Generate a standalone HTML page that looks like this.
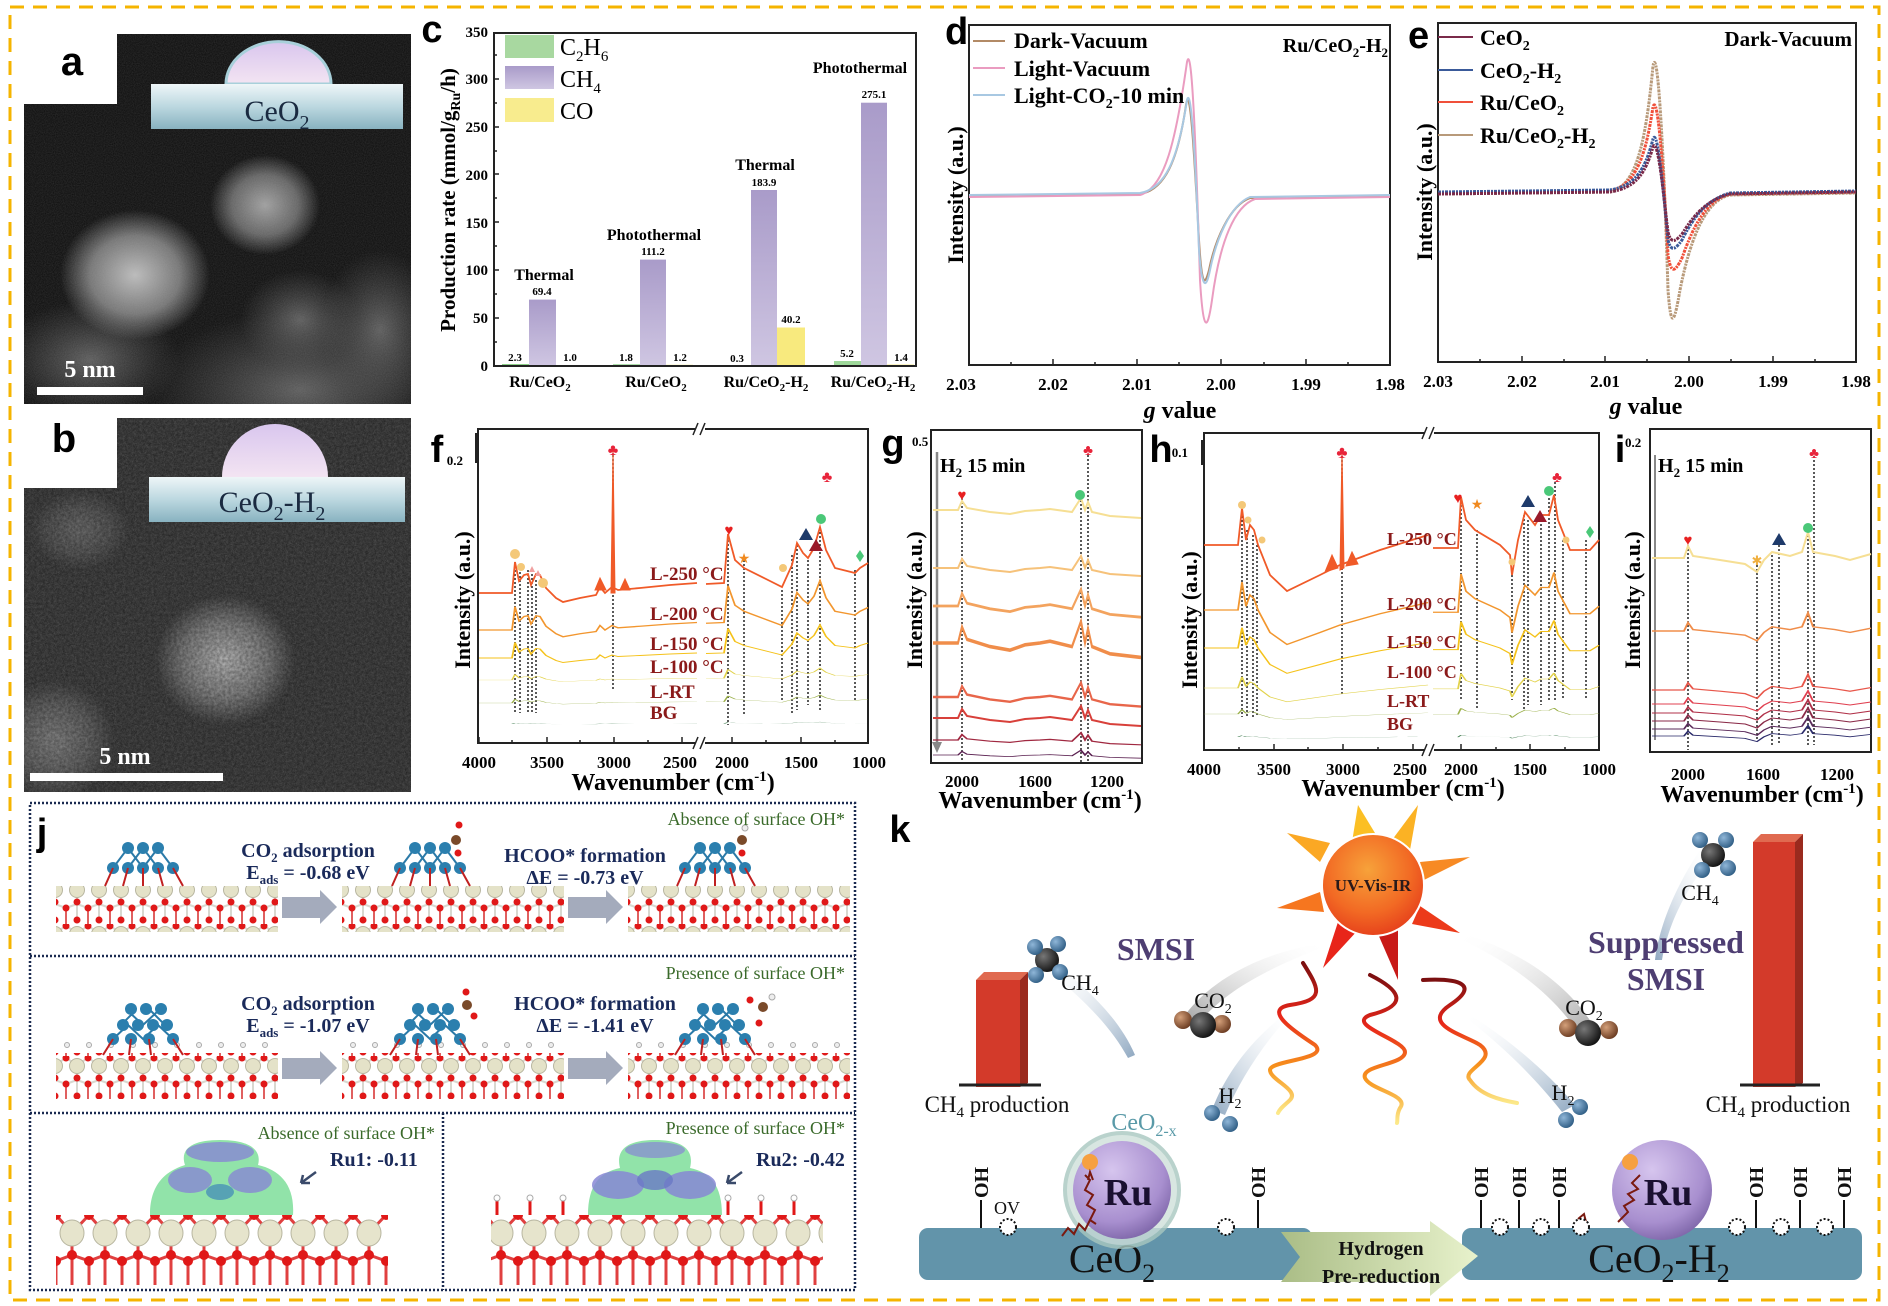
<!DOCTYPE html>
<html><head><meta charset="utf-8"><style>
html,body{margin:0;padding:0;background:#fff}
svg{display:block}
.s{font-family:"Liberation Serif",serif;font-weight:bold}
.p{font-family:"Liberation Sans",sans-serif;font-weight:bold}
</style></head><body>
<svg width="1888" height="1306" viewBox="0 0 1888 1306" xmlns="http://www.w3.org/2000/svg">
<defs>
<filter id="noise" x="0" y="0" width="100%" height="100%"><feTurbulence type="fractalNoise" baseFrequency="0.9" numOctaves="2" seed="3"/><feColorMatrix type="matrix" values="0 0 0 0 0.5 0 0 0 0 0.5 0 0 0 0 0.5 0 0 0 0.35 0"/></filter>
<filter id="noise2" x="0" y="0" width="100%" height="100%"><feTurbulence type="fractalNoise" baseFrequency="0.35" numOctaves="2" seed="7"/><feColorMatrix type="matrix" values="0 0 0 0 0 0 0 0 0 0 0 0 0 0 0 0 0 0 -1.4 1.1"/></filter>
<radialGradient id="blob" cx="0.5" cy="0.5" r="0.5"><stop offset="0" stop-color="#d0d0d0"/><stop offset="0.6" stop-color="#808080"/><stop offset="1" stop-color="#808080" stop-opacity="0"/></radialGradient>
<radialGradient id="blobd" cx="0.5" cy="0.5" r="0.5"><stop offset="0" stop-color="#5a5a5a"/><stop offset="1" stop-color="#4a4a4a" stop-opacity="0"/></radialGradient>
<linearGradient id="ceo" x1="0" y1="0" x2="0" y2="1"><stop offset="0" stop-color="#eef6f8"/><stop offset="0.5" stop-color="#bcd8e0"/><stop offset="1" stop-color="#88b2c0"/></linearGradient>
<linearGradient id="dome" x1="0" y1="0" x2="0" y2="1"><stop offset="0" stop-color="#d9c6ee"/><stop offset="1" stop-color="#f3e4f2"/></linearGradient>
<linearGradient id="ch4" x1="0" y1="0" x2="0" y2="1"><stop offset="0" stop-color="#a99bc9"/><stop offset="1" stop-color="#cfc6e2"/></linearGradient>
<radialGradient id="sun" cx="0.45" cy="0.35" r="0.7"><stop offset="0" stop-color="#f7a23a"/><stop offset="0.6" stop-color="#f26a24"/><stop offset="1" stop-color="#e43a1a"/></radialGradient>
<radialGradient id="ru" cx="0.4" cy="0.3" r="0.75"><stop offset="0" stop-color="#d6c5ee"/><stop offset="0.7" stop-color="#a88fcf"/><stop offset="1" stop-color="#7b63a6"/></radialGradient>
<linearGradient id="arr" x1="0" y1="0" x2="1" y2="0"><stop offset="0" stop-color="#aabd86"/><stop offset="1" stop-color="#e8f2cc"/></linearGradient>
<linearGradient id="wl" x1="0" y1="0" x2="0" y2="1"><stop offset="0" stop-color="#7a0f10"/><stop offset="0.35" stop-color="#e8261a"/><stop offset="0.7" stop-color="#f7941d"/><stop offset="1" stop-color="#fce98a"/></linearGradient>
<linearGradient id="trail" x1="0" y1="0" x2="1" y2="1"><stop offset="0" stop-color="#ffffff" stop-opacity="0"/><stop offset="1" stop-color="#8ea7c0"/></linearGradient>
<linearGradient id="trail2" x1="1" y1="0" x2="0" y2="1"><stop offset="0" stop-color="#ffffff" stop-opacity="0"/><stop offset="1" stop-color="#8ea7c0"/></linearGradient>
<linearGradient id="ctrail" x1="1" y1="0" x2="0" y2="1"><stop offset="0" stop-color="#ffffff" stop-opacity="0"/><stop offset="1" stop-color="#9a9a9a"/></linearGradient>
<linearGradient id="ctrail2" x1="0" y1="0" x2="1" y2="1"><stop offset="0" stop-color="#ffffff" stop-opacity="0"/><stop offset="1" stop-color="#9a9a9a"/></linearGradient>
<radialGradient id="ball" cx="0.35" cy="0.35" r="0.7"><stop offset="0" stop-color="#8fb6d8"/><stop offset="1" stop-color="#2f5d84"/></radialGradient>
<radialGradient id="cball" cx="0.35" cy="0.35" r="0.7"><stop offset="0" stop-color="#777"/><stop offset="1" stop-color="#111"/></radialGradient>
<radialGradient id="oball" cx="0.35" cy="0.35" r="0.7"><stop offset="0" stop-color="#d4a07a"/><stop offset="1" stop-color="#6a3a20"/></radialGradient>
<pattern id="slab" width="22" height="44" patternUnits="userSpaceOnUse">
<rect width="22" height="44" fill="#fff"/>
<path d="M0,2 L11,9 L22,2 M11,9 V24 M0,28 L11,24 L22,28 M11,24 V40" stroke="#d8d8d0" stroke-width="2" fill="none"/>
<path d="M0,28 V44 M22,28 V44" stroke="#e06060" stroke-width="2"/>
<circle cx="11" cy="10" r="7.5" fill="#e4e2c8" stroke="#b8b6a0"/>
<circle cx="0" cy="2" r="3.5" fill="#e01818"/><circle cx="22" cy="2" r="3.5" fill="#e01818"/>
<circle cx="11" cy="22" r="3.5" fill="#e01818"/><circle cx="0" cy="28" r="3.5" fill="#e01818"/><circle cx="22" cy="28" r="3.5" fill="#e01818"/>
<circle cx="11" cy="40" r="3.5" fill="#e01818"/>
</pattern>
<pattern id="slab2" width="33" height="70" patternUnits="userSpaceOnUse" x="56" y="1215">
<rect width="33" height="70" fill="#fff"/>
<path d="M0,0 L16,18 L33,0 M16,18 V40 M0,46 L16,40 L33,46 M16,40 V70 M0,46 V70 M33,46 V70" stroke="#e04040" stroke-width="3" fill="none"/>
<ellipse cx="16" cy="18" rx="12" ry="13" fill="#e6e4cc" stroke="#b8b6a0"/>
<circle cx="0" cy="0" r="5" fill="#e01818"/><circle cx="33" cy="0" r="5" fill="#e01818"/>
<circle cx="16" cy="40" r="5" fill="#e01818"/><circle cx="0" cy="46" r="5" fill="#e01818"/><circle cx="33" cy="46" r="5" fill="#e01818"/>
</pattern>
<g id="ru1">
<path d="M-15,-10 L0,10 L15,-10 M-30,10 L-15,-10 M30,10 L15,-10 M-15,10 L0,-10 L15,10" stroke="#2b7aa8" stroke-width="2" fill="none"/>
<circle cx="-15" cy="-10" r="6" fill="#2b7fae"/><circle cx="0" cy="-10" r="6" fill="#2b7fae"/><circle cx="15" cy="-10" r="6" fill="#2b7fae"/>
<circle cx="-30" cy="10" r="6" fill="#2b7fae"/><circle cx="-15" cy="10" r="6" fill="#2b7fae"/><circle cx="0" cy="10" r="6" fill="#2b7fae"/><circle cx="15" cy="10" r="6" fill="#2b7fae"/><circle cx="30" cy="10" r="6" fill="#2b7fae"/>
<path d="M-30,10 L-38,28 M-15,10 L-20,28 M0,10 V28 M15,10 L20,28 M30,10 L40,28" stroke="#c02020" stroke-width="2"/>
</g>
<g id="ru2">
<path d="M-15,-14 L0,0 L15,-14 M-22,0 L-8,-14 M22,0 L8,-14 M-30,14 L-15,0 L0,14 L15,0 L30,14" stroke="#2b7aa8" stroke-width="2" fill="none"/>
<circle cx="-12" cy="-16" r="6" fill="#2b7fae"/><circle cx="3" cy="-16" r="6" fill="#2b7fae"/><circle cx="18" cy="-16" r="6" fill="#2b7fae"/>
<circle cx="-20" cy="0" r="6" fill="#2b7fae"/><circle cx="-5" cy="0" r="6" fill="#2b7fae"/><circle cx="10" cy="0" r="6" fill="#2b7fae"/><circle cx="24" cy="0" r="6" fill="#2b7fae"/>
<circle cx="-30" cy="14" r="6" fill="#2b7fae"/><circle cx="-12" cy="14" r="6" fill="#2b7fae"/><circle cx="6" cy="14" r="6" fill="#2b7fae"/><circle cx="30" cy="14" r="6" fill="#2b7fae"/>
<path d="M-30,14 L-40,30 M30,14 L40,30 M-12,14 L-14,30 M6,14 L8,30" stroke="#c02020" stroke-width="2"/>
</g>
<g id="ohrow"><circle cx="0" cy="0" r="2.5" fill="#eee" stroke="#aaa"/><circle cx="22" cy="0" r="2.5" fill="#eee" stroke="#aaa"/><circle cx="44" cy="0" r="2.5" fill="#eee" stroke="#aaa"/><circle cx="66" cy="0" r="2.5" fill="#eee" stroke="#aaa"/><circle cx="88" cy="0" r="2.5" fill="#eee" stroke="#aaa"/><circle cx="110" cy="0" r="2.5" fill="#eee" stroke="#aaa"/><circle cx="132" cy="0" r="2.5" fill="#eee" stroke="#aaa"/><circle cx="154" cy="0" r="2.5" fill="#eee" stroke="#aaa"/><circle cx="176" cy="0" r="2.5" fill="#eee" stroke="#aaa"/><circle cx="198" cy="0" r="2.5" fill="#eee" stroke="#aaa"/></g>
<path id="fsh" d="M479,0 L512,0 L515,-31 L519,-12 L524,-18 L528,-19 L531,-8 L536,-19 L540,-18 L546,-5 L556,5 L563,9 L580,5 L596,2 L600,-6 L605,0 L612,-6 L618,-3 L640,-5 L670,-8 L697,-10 M706,-9 L724,-10 L728,-59 L735,-33 L744,-25 L770,-12 L782,-6 L792,-28 L797,-50 L803,-40 L808,-35 L814,-45 L820,-66 L826,-43 L835,-25 L855,-20 L860,-25 L868,-30"/>
<path id="hsh" d="M1204,0 L1238,0 L1242,-37 L1246,-5 L1250,-20 L1254,-15 L1258,0 L1270,30 L1287,46 L1320,30 L1340,20 L1380,5 L1428,-10 M1433,3 L1458,3 L1461,-48 L1466,-25 L1475,-15 L1500,0 L1510,10 L1512,30 L1518,-5 L1525,-33 L1535,-20 L1541,-30 L1549,-30 L1554,-50 L1558,-25 L1570,5 L1590,5 L1599,-5"/>
<path id="gsh" d="M933,0 L958,0 L962,-9 L967,-2 L990,2 L1010,4 L1025,1 L1040,0 L1050,-1 L1072,2 L1081,-12 L1085,0 L1088,-8 L1092,2 L1110,6 L1141,8"/>
<path id="ish" d="M1652,0 L1684,0 L1688,-12 L1693,-2 L1720,2 L1745,6 L1757,14 L1764,2 L1772,-6 L1790,-2 L1802,-6 L1808,-26 L1813,-6 L1835,-2 L1850,2 L1871,-4"/>
</defs>

<!-- border -->
<rect x="10" y="7" width="1869" height="1293" fill="none" stroke="#f5b400" stroke-width="3" stroke-dasharray="14 9"/>

<!-- panel a -->
<path d="M117,34 H411 V404 H24 V104 H117 Z" fill="#0b0b0b"/>
<g clip-path="url(#ca)">
<clipPath id="ca"><path d="M117,34 H411 V404 H24 V104 H117 Z"/></clipPath>
<ellipse cx="300" cy="390" rx="150" ry="80" fill="url(#blobd)"/>
<ellipse cx="380" cy="330" rx="60" ry="80" fill="url(#blobd)"/>
<ellipse cx="90" cy="360" rx="90" ry="60" fill="url(#blobd)"/>
<ellipse cx="265" cy="205" rx="55" ry="50" fill="url(#blob)" opacity="0.75"/>
<ellipse cx="135" cy="275" rx="75" ry="65" fill="url(#blob)" opacity="0.9"/>
<ellipse cx="300" cy="320" rx="60" ry="50" fill="url(#blobd)"/>
<rect x="24" y="34" width="387" height="370" filter="url(#noise)" opacity="0.6"/>
</g>
<path d="M226,84 A52,42 0 0 1 331,84 Z" fill="url(#dome)" stroke="#a8d0da" stroke-width="3"/>
<rect x="151" y="84" width="252" height="45" fill="url(#ceo)"/>
<text x="277" y="121" class="s" style="font-weight:normal" font-size="30" text-anchor="middle" fill="#1a2a40">CeO<tspan font-size="20" dy="8">2</tspan></text>
<text x="72" y="75" class="p" font-size="40" text-anchor="middle">a</text>
<rect x="37" y="387" width="106" height="8" fill="#fff"/>
<text x="90" y="377" class="s" font-size="24" fill="#fff" text-anchor="middle">5 nm</text>

<!-- panel b -->
<path d="M117,418 H411 V792 H24 V488 H117 Z" fill="#2a2a2a"/>
<g clip-path="url(#cb)">
<clipPath id="cb"><path d="M117,418 H411 V792 H24 V488 H117 Z"/></clipPath>
<ellipse cx="225" cy="660" rx="70" ry="65" fill="url(#blob)" opacity="0.8"/>
<ellipse cx="55" cy="740" rx="60" ry="60" fill="url(#blob)" opacity="0.45"/>
<ellipse cx="80" cy="530" rx="50" ry="40" fill="url(#blob)" opacity="0.3"/>
<rect x="24" y="418" width="387" height="374" filter="url(#noise)" opacity="0.9"/>
<rect x="24" y="418" width="387" height="374" filter="url(#noise2)" opacity="0.35"/>
</g>
<path d="M222,477 A53,53 0 0 1 328,477 Z" fill="url(#dome)"/>
<rect x="149" y="477" width="256" height="45" fill="url(#ceo)"/>
<text x="272" y="512" class="s" style="font-weight:normal" font-size="30" text-anchor="middle" fill="#1a2a40">CeO<tspan font-size="20" dy="8">2</tspan><tspan dy="-8">-H</tspan><tspan font-size="20" dy="8">2</tspan></text>
<text x="64" y="452" class="p" font-size="40" text-anchor="middle">b</text>
<rect x="30" y="773" width="193" height="8" fill="#fff"/>
<text x="125" y="764" class="s" font-size="24" fill="#fff" text-anchor="middle">5 nm</text>

<!-- panel c -->
<text x="432" y="42" class="p" font-size="38" text-anchor="middle">c</text>
<g class="s" font-size="15" text-anchor="end">
<text x="488" y="371">0</text><text x="488" y="323">50</text><text x="488" y="275">100</text><text x="488" y="228">150</text><text x="488" y="180">200</text><text x="488" y="132">250</text><text x="488" y="84">300</text><text x="488" y="37">350</text>
</g>
<text transform="translate(455,200) rotate(-90)" class="s" font-size="21" text-anchor="middle">Production rate (mmol/g<tspan font-size="14" dy="5">Ru</tspan><tspan dy="-5">/h)</tspan></text>
<rect x="505" y="35" width="49" height="23" fill="#a8d8a0"/>
<rect x="505" y="66" width="49" height="23" fill="url(#ch4)"/>
<rect x="505" y="98" width="49" height="24" fill="#f8ec8e"/>
<g class="s" font-size="24" style="font-weight:normal"><text x="560" y="55">C<tspan font-size="15" dy="6">2</tspan><tspan dy="-6">H</tspan><tspan font-size="15" dy="6">6</tspan></text><text x="560" y="87">CH<tspan font-size="15" dy="6">4</tspan></text><text x="560" y="119">CO</text></g>
<g>
<rect x="502" y="364" width="27" height="2.2" fill="#8ccf88"/><rect x="529" y="299.6" width="27" height="66.4" fill="url(#ch4)"/><rect x="556" y="365" width="27" height="1" fill="#f5e36a"/>
<rect x="613" y="364.3" width="27" height="1.7" fill="#8ccf88"/><rect x="640" y="259.6" width="26" height="106.4" fill="url(#ch4)"/><rect x="666" y="364.8" width="27" height="1.2" fill="#f5e36a"/>
<rect x="724" y="365.7" width="27" height="0.3" fill="#8ccf88"/><rect x="751" y="190" width="26" height="176" fill="url(#ch4)"/><rect x="777" y="327.5" width="28" height="38.5" fill="#f8ea7e"/>
<rect x="834" y="361" width="27" height="5" fill="#9ed89a"/><rect x="861" y="102.7" width="26" height="263.3" fill="url(#ch4)"/><rect x="887" y="364.6" width="27" height="1.4" fill="#f5e36a"/>
</g>
<g class="s" font-size="11" text-anchor="middle">
<text x="515" y="361">2.3</text><text x="542" y="295">69.4</text><text x="570" y="361">1.0</text>
<text x="626" y="361">1.8</text><text x="653" y="255">111.2</text><text x="680" y="361">1.2</text>
<text x="737" y="362">0.3</text><text x="764" y="186">183.9</text><text x="791" y="323">40.2</text>
<text x="847" y="357">5.2</text><text x="874" y="98">275.1</text><text x="901" y="361">1.4</text>
</g>
<g class="s" font-size="16" text-anchor="middle">
<text x="544" y="280">Thermal</text><text x="654" y="240">Photothermal</text><text x="765" y="170">Thermal</text><text x="860" y="73">Photothermal</text>
</g>
<rect x="494" y="33" width="422" height="333" fill="none" stroke="#222" stroke-width="2"/>
<g stroke="#222" stroke-width="1.5"><path d="M494,318 h5 M494,270 h5 M494,222 h5 M494,174 h5 M494,127 h5 M494,79 h5 M494,342 h3 M494,294 h3 M494,246 h3 M494,198 h3 M494,151 h3 M494,103 h3 M494,55 h3"/></g>
<g class="s" font-size="16" text-anchor="middle">
<text x="540" y="387">Ru/CeO<tspan font-size="11" dy="4">2</tspan></text><text x="656" y="387">Ru/CeO<tspan font-size="11" dy="4">2</tspan></text><text x="766" y="387">Ru/CeO<tspan font-size="11" dy="4">2</tspan><tspan dy="-4">-H</tspan><tspan font-size="11" dy="4">2</tspan></text><text x="873" y="387">Ru/CeO<tspan font-size="11" dy="4">2</tspan><tspan dy="-4">-H</tspan><tspan font-size="11" dy="4">2</tspan></text>
</g>

<!-- panel d -->
<text x="945" y="44" class="p" font-size="38">d</text>
<rect x="969" y="25" width="421" height="340" fill="none" stroke="#222" stroke-width="2"/>
<g fill="none" stroke-width="2">
<path d="M969,196 L1140,194 C1165,190 1178,160 1186,105 C1190,80 1194,150 1199,240 C1202,290 1205,285 1209,270 C1215,240 1230,205 1250,198 L1390,196" stroke="#b28a66"/>
<path d="M969,197 L1140,195 C1165,188 1176,140 1187,62 C1192,40 1196,150 1200,280 C1203,330 1207,335 1212,300 C1220,240 1235,206 1255,199 L1390,197" stroke="#ea9cc0"/>
<path d="M969,195 L1140,193 C1165,189 1178,160 1187,100 C1191,85 1195,150 1199,250 C1202,290 1206,290 1210,270 C1216,240 1230,205 1250,197 L1390,195" stroke="#a8c8e2"/>
</g>
<g stroke-width="2"><line x1="973" y1="41" x2="1005" y2="41" stroke="#b28a66"/><line x1="973" y1="68" x2="1005" y2="68" stroke="#ea9cc0"/><line x1="973" y1="95" x2="1005" y2="95" stroke="#a8c8e2"/></g>
<g class="s" font-size="22"><text x="1014" y="48">Dark-Vacuum</text><text x="1014" y="76">Light-Vacuum</text><text x="1014" y="103">Light-CO<tspan font-size="14" dy="5">2</tspan><tspan dy="-5">-10 min</tspan></text></g>
<text x="1388" y="52" class="s" font-size="20" text-anchor="end">Ru/CeO<tspan font-size="13" dy="5">2</tspan><tspan dy="-5">-H</tspan><tspan font-size="13" dy="5">2</tspan></text>
<text transform="translate(963,195) rotate(-90)" class="s" font-size="22" text-anchor="middle">Intensity (a.u.)</text>
<g stroke="#222" stroke-width="1.5"><path d="M1053,365 v-6 M1137,365 v-6 M1221,365 v-6 M1306,365 v-6 M1011,365 v-3 M1095,365 v-3 M1179,365 v-3 M1264,365 v-3 M1348,365 v-3"/></g>
<g class="s" font-size="17" text-anchor="middle"><text x="961" y="390">2.03</text><text x="1053" y="390">2.02</text><text x="1137" y="390">2.01</text><text x="1221" y="390">2.00</text><text x="1306" y="390">1.99</text><text x="1390" y="390">1.98</text></g>
<text x="1180" y="418" class="s" font-size="24" text-anchor="middle"><tspan font-style="italic">g</tspan> value</text>

<!-- panel e -->
<text x="1408" y="48" class="p" font-size="38">e</text>
<rect x="1438" y="23" width="418" height="339" fill="none" stroke="#222" stroke-width="2"/>
<g fill="none" stroke-width="3" stroke-dasharray="3 1 2 1">
<path d="M1438,194 L1610,192 C1635,186 1645,150 1653,66 C1658,40 1664,160 1668,290 C1671,330 1674,325 1680,290 C1690,240 1705,200 1730,195 L1856,193" stroke="#b89a7a"/>
<path d="M1438,193 L1610,191 C1635,185 1645,160 1653,107 C1658,90 1664,180 1668,255 C1671,275 1675,272 1682,258 C1692,230 1705,200 1730,194 L1856,192" stroke="#f0503a"/>
<path d="M1438,192 L1610,190 C1635,186 1645,170 1653,139 C1658,125 1664,200 1668,240 C1671,252 1675,250 1682,240 C1692,220 1705,200 1730,193 L1856,191" stroke="#3a5a9a"/>
<path d="M1438,194 L1610,192 C1635,188 1645,175 1653,147 C1658,135 1664,200 1668,232 C1671,244 1675,242 1682,234 C1692,218 1705,200 1730,194 L1856,192" stroke="#7a2a4a"/>
</g>
<g stroke-width="2"><line x1="1438" y1="37" x2="1473" y2="37" stroke="#7a2a4a"/><line x1="1438" y1="70" x2="1473" y2="70" stroke="#3a5a9a"/><line x1="1438" y1="102" x2="1473" y2="102" stroke="#f0503a"/><line x1="1438" y1="135" x2="1473" y2="135" stroke="#b89a7a"/></g>
<g class="s" font-size="22"><text x="1480" y="45">CeO<tspan font-size="14" dy="5">2</tspan></text><text x="1480" y="78">CeO<tspan font-size="14" dy="5">2</tspan><tspan dy="-5">-H</tspan><tspan font-size="14" dy="5">2</tspan></text><text x="1480" y="110">Ru/CeO<tspan font-size="14" dy="5">2</tspan></text><text x="1480" y="143">Ru/CeO<tspan font-size="14" dy="5">2</tspan><tspan dy="-5">-H</tspan><tspan font-size="14" dy="5">2</tspan></text></g>
<text x="1852" y="46" class="s" font-size="21" text-anchor="end">Dark-Vacuum</text>
<text transform="translate(1432,192) rotate(-90)" class="s" font-size="22" text-anchor="middle">Intensity (a.u.)</text>
<g stroke="#222" stroke-width="1.5"><path d="M1522,362 v-6 M1605,362 v-6 M1689,362 v-6 M1773,362 v-6 M1480,362 v-3 M1564,362 v-3 M1647,362 v-3 M1731,362 v-3 M1815,362 v-3"/></g>
<g class="s" font-size="17" text-anchor="middle"><text x="1438" y="387">2.03</text><text x="1522" y="387">2.02</text><text x="1605" y="387">2.01</text><text x="1689" y="387">2.00</text><text x="1773" y="387">1.99</text><text x="1856" y="387">1.98</text></g>
<text x="1646" y="414" class="s" font-size="24" text-anchor="middle"><tspan font-style="italic">g</tspan> value</text>

<!-- panel f -->
<text x="437" y="462" class="p" font-size="38" text-anchor="middle">f</text>
<rect x="478" y="429" width="390" height="314" fill="none" stroke="#222" stroke-width="2"/>
<rect x="695" y="420" width="10" height="330" fill="#fff"/>
<path d="M693,435 l5,-12 M700,435 l5,-12 M693,749 l5,-12 M700,749 l5,-12" stroke="#222" stroke-width="1.5"/>
<line x1="476" y1="433" x2="476" y2="463" stroke="#222" stroke-width="2"/>
<text x="463" y="465" class="s" font-size="13" text-anchor="end">0.2</text>
<g fill="none" stroke="#222" stroke-width="1.5" stroke-dasharray="2 2">
<path d="M515,562 V713 M520,568 V713 M528,570 V713 M532,574 V713 M536,580 V713 M613,455 V690 M728,540 V725 M744,560 V715 M782,590 V700 M792,555 V715 M797,545 V710 M808,560 V705 M820,528 V712 M855,570 V700"/>
</g>
<g fill="none" stroke-width="1.8" vector-effect="non-scaling-stroke">
<use href="#fsh" transform="translate(0,724) scale(1,0.03)" stroke="#3f7a4e"/>
<use href="#fsh" transform="translate(0,703) scale(1,0.12)" stroke="#9bb04a"/>
<use href="#fsh" transform="translate(0,680) scale(1,0.18)" stroke="#e2d24a"/>
<use href="#fsh" transform="translate(0,658) scale(1,0.5)" stroke="#f5c21a"/>
<use href="#fsh" transform="translate(0,630) scale(1,0.75)" stroke="#f2962e"/>
<use href="#fsh" transform="translate(0,593)" stroke="#f05a28"/>
</g>
<path d="M611,593 L613,450 L615,593 Z M595,590 L600,578 L606,590 Z M620,590 L625,579 L630,590 Z" fill="#f05a28" stroke="#f05a28"/>
<g class="s" font-size="19" fill="#8b1a1a">
<text x="650" y="580">L-250 °C</text><text x="650" y="620">L-200 °C</text><text x="650" y="650">L-150 °C</text><text x="650" y="673">L-100 °C</text><text x="650" y="698">L-RT</text><text x="650" y="719">BG</text>
</g>
<g>
<text x="613" y="455" font-size="16" fill="#e8243a" text-anchor="middle">♣</text>
<text x="827" y="482" font-size="16" fill="#e8243a" text-anchor="middle">♣</text>
<text x="729" y="535" font-size="15" fill="#e82020" text-anchor="middle">♥</text>
<circle cx="515" cy="554" r="5" fill="#f4c878"/><circle cx="521" cy="567" r="4" fill="#f4c878"/><circle cx="543" cy="583" r="5" fill="#f4c878"/><circle cx="783" cy="568" r="4" fill="#f4c878"/>
<path d="M529,572 l3,-6 l3,6 Z M535,576 l3,-6 l3,6Z" fill="#f0a0a0"/>
<text x="744" y="563" font-size="14" fill="#f08a20" text-anchor="middle">★</text>
<path d="M799,540 l7,-12 l7,12 Z" fill="#1e3a6a"/><path d="M809,551 l7,-12 l7,12 Z" fill="#9a1a2a"/>
<circle cx="821" cy="519" r="5" fill="#4ac878"/><path d="M856,556 l4,-6 l4,6 l-4,6 Z" fill="#4ac878"/>
</g>
<g stroke="#222" stroke-width="1.5"><path d="M479,743 v-6 M547,743 v-6 M614,743 v-6 M682,743 v-6 M732,743 v-6 M801,743 v-6 M512,743 v-3 M580,743 v-3 M648,743 v-3 M766,743 v-3 M835,743 v-3"/></g>
<g class="s" font-size="17" text-anchor="middle"><text x="479" y="768">4000</text><text x="547" y="768">3500</text><text x="614" y="768">3000</text><text x="680" y="768">2500</text><text x="732" y="768">2000</text><text x="801" y="768">1500</text><text x="869" y="768">1000</text></g>
<text x="673" y="790" class="s" font-size="24" text-anchor="middle">Wavenumber (cm<tspan font-size="15" dy="-9">-1</tspan><tspan dy="9">)</tspan></text>
<text transform="translate(470,600) rotate(-90)" class="s" font-size="22" text-anchor="middle">Intensity (a.u.)</text>

<!-- panel g -->
<text x="893" y="456" class="p" font-size="38" text-anchor="middle">g</text>
<rect x="931" y="430" width="211" height="333" fill="none" stroke="#222" stroke-width="2"/>
<text x="912" y="446" class="s" font-size="13">0.5</text>
<line x1="937" y1="452" x2="937" y2="745" stroke="#888" stroke-width="2.5"/><path d="M932,742 l5,11 l5,-11 Z" fill="#888"/>
<g fill="none" stroke="#222" stroke-width="1.5" stroke-dasharray="2 2"><path d="M962,498 V762 M1081,500 V762 M1088,455 V762"/></g>
<g fill="none" stroke-width="2" vector-effect="non-scaling-stroke">
<use href="#gsh" transform="translate(0,510)" stroke="#f6df94"/>
<use href="#gsh" transform="translate(0,568)" stroke="#f6c27a"/>
<use href="#gsh" transform="translate(0,606) scale(1,1.4)" stroke="#f3a35e"/>
<use href="#gsh" transform="translate(0,643) scale(1,1.8)" stroke="#f08d4a"/>
<use href="#gsh" transform="translate(0,697) scale(1,1.2)" stroke="#e8664a"/>
<use href="#gsh" transform="translate(0,718)" stroke="#d8403a"/>
<use href="#gsh" transform="translate(0,740) scale(1,0.6)" stroke="#a02840"/>
<use href="#gsh" transform="translate(0,755) scale(1,0.4)" stroke="#5a2050"/>
</g>
<text x="962" y="500" font-size="15" fill="#e82020" text-anchor="middle">♥</text>
<circle cx="1080" cy="495" r="5" fill="#4ac878"/>
<text x="1088" y="455" font-size="15" fill="#e8243a" text-anchor="middle">♣</text>
<text x="940" y="472" class="s" font-size="20">H<tspan font-size="13" dy="5">2</tspan><tspan dy="-5"> 15 min</tspan></text>
<g class="s" font-size="17" text-anchor="middle"><text x="962" y="787">2000</text><text x="1035" y="787">1600</text><text x="1107" y="787">1200</text></g>
<text x="1040" y="808" class="s" font-size="24" text-anchor="middle">Wavenumber (cm<tspan font-size="15" dy="-9">-1</tspan><tspan dy="9">)</tspan></text>
<text transform="translate(922,600) rotate(-90)" class="s" font-size="22" text-anchor="middle">Intensity (a.u.)</text>

<!-- panel h -->
<text x="1161" y="462" class="p" font-size="38" text-anchor="middle">h</text>
<rect x="1204" y="433" width="395" height="317" fill="none" stroke="#222" stroke-width="2"/>
<rect x="1425" y="425" width="9" height="332" fill="#fff"/>
<path d="M1422,439 l5,-12 M1429,439 l5,-12 M1422,756 l5,-12 M1429,756 l5,-12" stroke="#222" stroke-width="1.5"/>
<line x1="1202" y1="440" x2="1202" y2="465" stroke="#222" stroke-width="2"/>
<text x="1188" y="457" class="s" font-size="13" text-anchor="end">0.1</text>
<g fill="none" stroke="#222" stroke-width="1.5" stroke-dasharray="2 2">
<path d="M1242,512 V717 M1247,530 V717 M1253,535 V717 M1257,545 V717 M1342,452 V695 M1461,497 V700 M1477,530 V710 M1512,575 V700 M1524,515 V710 M1528,520 V705 M1541,520 V705 M1549,498 V700 M1555,478 V700 M1563,540 V700 M1586,540 V700"/>
</g>
<g fill="none" stroke-width="1.8" vector-effect="non-scaling-stroke">
<use href="#hsh" transform="translate(0,737) scale(1,0.04)" stroke="#3f7a4e"/>
<use href="#hsh" transform="translate(0,714) scale(1,0.12)" stroke="#9bb04a"/>
<use href="#hsh" transform="translate(0,688) scale(1,0.3)" stroke="#e2d24a"/>
<use href="#hsh" transform="translate(0,648) scale(1,0.55)" stroke="#f5c21a"/>
<use href="#hsh" transform="translate(0,610) scale(1,0.75)" stroke="#f2962e"/>
<use href="#hsh" transform="translate(0,545)" stroke="#f05a28"/>
</g>
<path d="M1340,570 L1342,450 L1344,568 Z M1325,572 L1332,555 L1338,568 Z M1346,566 L1352,552 L1358,564 Z" fill="#f05a28" stroke="#f05a28"/>
<g class="s" font-size="18" fill="#8b1a1a">
<text x="1387" y="545">L-250 °C</text><text x="1387" y="610">L-200 °C</text><text x="1387" y="648">L-150 °C</text><text x="1387" y="678">L-100 °C</text><text x="1387" y="707">L-RT</text><text x="1387" y="730">BG</text>
</g>
<text x="1342" y="458" font-size="17" fill="#e8243a" text-anchor="middle">♣</text>
<text x="1557" y="482" font-size="15" fill="#e8243a" text-anchor="middle">♣</text>
<text x="1458" y="503" font-size="15" fill="#e82020" text-anchor="middle">♥</text>
<text x="1477" y="509" font-size="14" fill="#f08a20" text-anchor="middle">★</text>
<path d="M1521,507 l7,-12 l7,12 Z" fill="#1e3a6a"/><path d="M1533,522 l7,-12 l7,12 Z" fill="#9a1a2a"/>
<circle cx="1549" cy="491" r="5" fill="#4ac878"/><path d="M1586,532 l4,-6 l4,6 l-4,6 Z" fill="#4ac878"/>
<circle cx="1242" cy="505" r="4" fill="#f4c878"/><circle cx="1248" cy="520" r="3.5" fill="#f4c878"/><circle cx="1262" cy="540" r="3.5" fill="#f4c878"/><circle cx="1512" cy="562" r="3.5" fill="#f4c878"/><circle cx="1566" cy="540" r="3.5" fill="#f4c878"/>
<g stroke="#222" stroke-width="1.5"><path d="M1274,750 v-6 M1343,750 v-6 M1413,750 v-6 M1461,750 v-6 M1530,750 v-6 M1239,750 v-3 M1308,750 v-3 M1378,750 v-3 M1496,750 v-3 M1565,750 v-3"/></g>
<g class="s" font-size="17" text-anchor="middle"><text x="1204" y="775">4000</text><text x="1274" y="775">3500</text><text x="1343" y="775">3000</text><text x="1410" y="775">2500</text><text x="1461" y="775">2000</text><text x="1530" y="775">1500</text><text x="1599" y="775">1000</text></g>
<text x="1403" y="796" class="s" font-size="24" text-anchor="middle">Wavenumber (cm<tspan font-size="15" dy="-9">-1</tspan><tspan dy="9">)</tspan></text>
<text transform="translate(1197,620) rotate(-90)" class="s" font-size="22" text-anchor="middle">Intensity (a.u.)</text>

<!-- panel i -->
<text x="1620" y="462" class="p" font-size="38" text-anchor="middle">i</text>
<rect x="1650" y="429" width="221" height="323" fill="none" stroke="#222" stroke-width="2"/>
<text x="1625" y="447" class="s" font-size="13">0.2</text>
<line x1="1655" y1="455" x2="1655" y2="740" stroke="#888" stroke-width="2"/>
<g fill="none" stroke="#222" stroke-width="1.5" stroke-dasharray="2 2"><path d="M1688,545 V750 M1757,565 V740 M1772,555 V745 M1779,545 V745 M1808,535 V745 M1814,452 V745"/></g>
<g fill="none" stroke-width="2" vector-effect="non-scaling-stroke">
<use href="#ish" transform="translate(0,558)" stroke="#f6df94"/>
<use href="#ish" transform="translate(0,631) scale(1,0.7)" stroke="#f08d4a"/>
<use href="#ish" transform="translate(0,690) scale(1,0.6)" stroke="#e8564a"/>
<use href="#ish" transform="translate(0,704) scale(1,0.5)" stroke="#e04050"/>
<use href="#ish" transform="translate(0,713) scale(1,0.5)" stroke="#b03048"/>
<use href="#ish" transform="translate(0,721) scale(1,0.5)" stroke="#8a2a48"/>
<use href="#ish" transform="translate(0,729) scale(1,0.45)" stroke="#5a2a5a"/>
<use href="#ish" transform="translate(0,736) scale(1,0.4)" stroke="#2a2a6a"/>
</g>
<text x="1688" y="545" font-size="15" fill="#e82020" text-anchor="middle">♥</text>
<text x="1757" y="565" font-size="13" fill="#f0b040" text-anchor="middle">✱</text>
<path d="M1772,545 l7,-12 l7,12 Z" fill="#1e3a6a"/>
<circle cx="1808" cy="528" r="5" fill="#4ac878"/>
<text x="1814" y="458" font-size="15" fill="#e8243a" text-anchor="middle">♣</text>
<text x="1658" y="472" class="s" font-size="20">H<tspan font-size="13" dy="5">2</tspan><tspan dy="-5"> 15 min</tspan></text>
<g class="s" font-size="17" text-anchor="middle"><text x="1688" y="780">2000</text><text x="1763" y="780">1600</text><text x="1837" y="780">1200</text></g>
<text x="1762" y="802" class="s" font-size="24" text-anchor="middle">Wavenumber (cm<tspan font-size="15" dy="-9">-1</tspan><tspan dy="9">)</tspan></text>
<text transform="translate(1640,600) rotate(-90)" class="s" font-size="22" text-anchor="middle">Intensity (a.u.)</text>

<!-- panel j -->
<g fill="none" stroke="#1a2a50" stroke-width="2.5" stroke-dasharray="2 2">
<rect x="30" y="803" width="825" height="487"/>
<line x1="30" y1="956" x2="855" y2="956"/><line x1="30" y1="1113" x2="855" y2="1113"/><line x1="443" y1="1113" x2="443" y2="1290"/>
</g>
<text x="42" y="845" class="p" font-size="38" text-anchor="middle">j</text>
<rect x="56" y="886" width="222" height="46" fill="url(#slab)"/>
<rect x="342" y="886" width="222" height="46" fill="url(#slab)"/>
<rect x="628" y="886" width="222" height="46" fill="url(#slab)"/>
<use href="#ru1" x="143" y="858"/><use href="#ru1" x="430" y="858"/><use href="#ru1" x="715" y="858"/>
<circle cx="456" cy="840" r="5" fill="#7a4a2a"/><circle cx="459" cy="825" r="3.5" fill="#e01818"/><circle cx="458" cy="853" r="3.5" fill="#e01818"/>
<circle cx="742" cy="840" r="5" fill="#7a4a2a"/><circle cx="745" cy="828" r="3" fill="#eee" stroke="#aaa"/><circle cx="742" cy="853" r="3.5" fill="#e01818"/>
<polygon points="282,897 320,897 320,890 337,907 320,924 320,918 282,918" fill="#a4abbc"/>
<polygon points="568,897 606,897 606,890 623,907 606,924 606,918 568,918" fill="#a4abbc"/>
<g class="s" font-size="20" fill="#1a2a5a" text-anchor="middle">
<text x="308" y="857">CO<tspan font-size="13" dy="5">2</tspan><tspan dy="-5"> adsorption</tspan></text>
<text x="308" y="879">E<tspan font-size="13" dy="5">ads</tspan><tspan dy="-5"> = -0.68 eV</tspan></text>
<text x="585" y="862">HCOO* formation</text><text x="585" y="884">ΔE = -0.73 eV</text>
<text x="308" y="1010">CO<tspan font-size="13" dy="5">2</tspan><tspan dy="-5"> adsorption</tspan></text>
<text x="308" y="1032">E<tspan font-size="13" dy="5">ads</tspan><tspan dy="-5"> = -1.07 eV</tspan></text>
<text x="595" y="1010">HCOO* formation</text><text x="595" y="1032">ΔE = -1.41 eV</text>
</g>
<g class="s" font-size="18" fill="#3a6a2a" text-anchor="end" style="font-weight:normal">
<text x="845" y="825">Absence of surface OH*</text>
<text x="845" y="979">Presence of surface OH*</text>
<text x="435" y="1139">Absence of surface OH*</text>
<text x="845" y="1134">Presence of surface OH*</text>
</g>
<rect x="56" y="1053" width="222" height="46" fill="url(#slab)"/>
<rect x="342" y="1053" width="222" height="46" fill="url(#slab)"/>
<rect x="628" y="1053" width="222" height="46" fill="url(#slab)"/>
<use href="#ohrow" x="67" y="1045"/><use href="#ohrow" x="353" y="1045"/><use href="#ohrow" x="639" y="1045"/>
<use href="#ru2" x="143" y="1025"/><use href="#ru2" x="430" y="1025"/><use href="#ru2" x="715" y="1025"/>
<circle cx="467" cy="1005" r="5" fill="#7a4a2a"/><circle cx="466" cy="992" r="3.5" fill="#e01818"/><circle cx="474" cy="1016" r="3.5" fill="#e01818"/>
<circle cx="763" cy="1007" r="5" fill="#7a4a2a"/><circle cx="772" cy="997" r="3" fill="#eee" stroke="#aaa"/><circle cx="750" cy="1000" r="3.5" fill="#e01818"/><circle cx="759" cy="1023" r="3.5" fill="#e01818"/>
<polygon points="282,1058 320,1058 320,1051 337,1068 320,1085 320,1079 282,1079" fill="#a4abbc"/>
<polygon points="568,1058 606,1058 606,1051 623,1068 606,1085 606,1079 568,1079" fill="#a4abbc"/>
<rect x="56" y="1215" width="332" height="70" fill="url(#slab2)"/>
<rect x="491" y="1215" width="332" height="70" fill="url(#slab2)"/>
<g stroke="#e01818" stroke-width="3"><path d="M497,1200 V1215 M530,1200 V1215 M563,1200 V1215 M728,1200 V1215 M761,1200 V1215 M794,1200 V1215"/></g>
<g fill="#fff" stroke="#aaa"><circle cx="497" cy="1198" r="3"/><circle cx="530" cy="1198" r="3"/><circle cx="563" cy="1198" r="3"/><circle cx="728" cy="1198" r="3"/><circle cx="761" cy="1198" r="3"/><circle cx="794" cy="1198" r="3"/></g>
<g opacity="0.9">
<path d="M150,1215 C150,1180 170,1170 185,1165 C180,1150 190,1140 220,1140 C250,1140 262,1150 258,1165 C280,1170 295,1185 293,1215 Z" fill="#86e0a0"/>
<ellipse cx="220" cy="1152" rx="34" ry="10" fill="#7a7ad0" opacity="0.8"/>
<ellipse cx="190" cy="1180" rx="22" ry="13" fill="#7a7ad0" opacity="0.8"/>
<ellipse cx="250" cy="1180" rx="22" ry="13" fill="#7a7ad0" opacity="0.8"/>
<ellipse cx="220" cy="1192" rx="14" ry="8" fill="#2a7ab0" opacity="0.7"/>
<path d="M588,1215 C588,1185 600,1172 620,1168 C615,1148 630,1140 655,1140 C680,1140 695,1148 690,1168 C710,1172 722,1185 722,1215 Z" fill="#86e0a0"/>
<ellipse cx="655" cy="1150" rx="30" ry="8" fill="#7a7ad0" opacity="0.7"/>
<ellipse cx="618" cy="1185" rx="26" ry="14" fill="#7a7ad0" opacity="0.85"/>
<ellipse cx="690" cy="1185" rx="26" ry="14" fill="#7a7ad0" opacity="0.85"/>
<ellipse cx="655" cy="1180" rx="18" ry="10" fill="#5a6ac0" opacity="0.8"/>
</g>
<g class="s" font-size="20" fill="#1a2a5a">
<text x="330" y="1166">Ru1: -0.11</text><text x="756" y="1166">Ru2: -0.42</text>
</g>
<path d="M316,1172 L301,1183 M301,1183 l9,0 M301,1183 l2,-8" stroke="#3a4a6a" stroke-width="2.5" fill="none"/>
<path d="M742,1172 L727,1183 M727,1183 l9,0 M727,1183 l2,-8" stroke="#3a4a6a" stroke-width="2.5" fill="none"/>

<!-- panel k -->
<text x="900" y="842" class="p" font-size="38" text-anchor="middle">k</text>
<g>
<polygon points="1358,805 1352,842 1378,838" fill="#fbbf24"/>
<polygon points="1418,805 1392,840 1410,850" fill="#fbb224"/>
<polygon points="1287,833 1320,862 1330,843" fill="#fba824"/>
<polygon points="1470,857 1420,862 1424,880" fill="#f78a24"/>
<polygon points="1277,908 1320,892 1324,912" fill="#f6761f"/>
<polygon points="1460,933 1420,906 1412,924" fill="#ec3a1a"/>
<polygon points="1323,968 1338,922 1358,930" fill="#e8251a"/>
<polygon points="1398,980 1378,934 1398,930" fill="#c81a18"/>
</g>
<circle cx="1373" cy="885" r="51" fill="url(#sun)" stroke="#fff" stroke-width="2"/>
<text x="1373" y="891" class="s" font-size="17" text-anchor="middle" fill="#2a1a1a">UV-Vis-IR</text>
<path d="M1327,943 C1270,950 1215,975 1185,1015 L1200,1022 C1225,990 1275,965 1327,946 Z" fill="url(#ctrail)" opacity="0.9"/>
<path d="M1460,933 C1520,950 1570,985 1596,1030 L1580,1036 C1555,995 1510,962 1458,938 Z" fill="url(#ctrail2)" opacity="0.9"/>
<path d="M1290,1010 C1250,1040 1225,1075 1212,1110 L1225,1115 C1240,1080 1262,1045 1292,1013 Z" fill="url(#trail2)"/>
<path d="M1467,1013 C1510,1040 1545,1070 1575,1105 L1562,1112 C1535,1078 1505,1048 1465,1017 Z" fill="url(#trail)"/>
<path d="M1050,960 C1090,990 1120,1020 1135,1055 L1128,1058 C1110,1025 1082,998 1045,968 Z" fill="url(#trail)"/>
<path d="M1700,850 C1680,880 1660,920 1655,960 L1662,960 C1668,925 1685,890 1710,860 Z" fill="url(#trail2)"/>
<g fill="none" stroke="url(#wl)" stroke-width="4" stroke-linecap="round">
<path d="M1303,963 C1320,990 1325,1000 1290,1005 C1260,1010 1300,1035 1315,1045 C1330,1060 1270,1060 1270,1070 C1270,1080 1300,1090 1290,1100 C1285,1105 1280,1108 1278,1113"/>
<path d="M1370,975 C1400,990 1410,1005 1370,1015 C1345,1025 1405,1040 1405,1052 C1405,1065 1360,1065 1365,1078 C1370,1090 1410,1095 1400,1108 C1396,1115 1398,1120 1397,1123"/>
<path d="M1423,980 C1460,978 1480,985 1450,1005 C1420,1025 1465,1035 1480,1045 C1500,1060 1460,1070 1470,1080 C1480,1095 1500,1100 1517,1103"/>
</g>
<circle cx="1183" cy="1020" r="9" fill="url(#oball)"/><circle cx="1222" cy="1024" r="9" fill="url(#oball)"/><circle cx="1203" cy="1025" r="13" fill="url(#cball)"/>
<circle cx="1568" cy="1028" r="9" fill="url(#oball)"/><circle cx="1609" cy="1030" r="9" fill="url(#oball)"/><circle cx="1588" cy="1033" r="13" fill="url(#cball)"/>
<circle cx="1212" cy="1113" r="8" fill="url(#ball)"/><circle cx="1230" cy="1124" r="8" fill="url(#ball)"/>
<circle cx="1580" cy="1107" r="8" fill="url(#ball)"/><circle cx="1566" cy="1120" r="8" fill="url(#ball)"/>
<circle cx="1047" cy="960" r="12" fill="url(#cball)"/><circle cx="1035" cy="947" r="8" fill="url(#ball)"/><circle cx="1058" cy="944" r="8" fill="url(#ball)"/><circle cx="1060" cy="972" r="8" fill="url(#ball)"/><circle cx="1036" cy="975" r="8" fill="url(#ball)"/>
<circle cx="1713" cy="855" r="12" fill="url(#cball)"/><circle cx="1700" cy="840" r="8" fill="url(#ball)"/><circle cx="1726" cy="840" r="8" fill="url(#ball)"/><circle cx="1728" cy="868" r="8" fill="url(#ball)"/><circle cx="1702" cy="870" r="8" fill="url(#ball)"/>
<g class="s" font-size="22" fill="#111" style="font-weight:normal">
<text x="1213" y="1008" text-anchor="middle">CO<tspan font-size="14" dy="5">2</tspan></text>
<text x="1584" y="1015" text-anchor="middle">CO<tspan font-size="14" dy="5">2</tspan></text>
<text x="1230" y="1103" text-anchor="middle">H<tspan font-size="14" dy="5">2</tspan></text>
<text x="1563" y="1100" text-anchor="middle">H<tspan font-size="14" dy="5">2</tspan></text>
<text x="1080" y="990" text-anchor="middle">CH<tspan font-size="14" dy="5">4</tspan></text>
<text x="1700" y="900" text-anchor="middle">CH<tspan font-size="14" dy="5">4</tspan></text>
</g>
<polygon points="976,980 1020,980 1028,972 984,972" fill="#e06a50"/>
<rect x="976" y="980" width="44" height="107" fill="#d33a2a"/>
<polygon points="1020,980 1028,972 1028,1083 1020,1087" fill="#9a2a1e"/>
<line x1="959" y1="1085" x2="1041" y2="1085" stroke="#222" stroke-width="3"/>
<polygon points="1753,842 1795,842 1803,834 1761,834" fill="#e06a50"/>
<rect x="1753" y="842" width="42" height="245" fill="#d33a2a"/>
<polygon points="1795,842 1803,834 1803,1083 1795,1087" fill="#9a2a1e"/>
<line x1="1740" y1="1085" x2="1820" y2="1085" stroke="#222" stroke-width="3"/>
<g class="s" font-size="23" text-anchor="middle" style="font-weight:normal" fill="#111">
<text x="997" y="1112">CH<tspan font-size="15" dy="5">4</tspan><tspan dy="-5"> production</tspan></text>
<text x="1778" y="1112">CH<tspan font-size="15" dy="5">4</tspan><tspan dy="-5"> production</tspan></text>
</g>
<g class="s" font-size="32" text-anchor="middle" fill="#4e3e72">
<text x="1156" y="960">SMSI</text><text x="1666" y="953">Suppressed</text><text x="1666" y="990">SMSI</text>
</g>
<rect x="919" y="1228" width="393" height="52" rx="9" fill="#6294aa"/>
<rect x="1462" y="1228" width="400" height="52" rx="9" fill="#6294aa"/>
<polygon points="1281,1232 1430,1232 1430,1221 1478,1256 1430,1296 1430,1282 1281,1282 1300,1257" fill="url(#arr)"/>
<g class="s" font-size="20" text-anchor="middle" fill="#111"><text x="1381" y="1255">Hydrogen</text><text x="1381" y="1283">Pre-reduction</text></g>
<g class="s" font-size="40" text-anchor="middle" fill="#111" style="font-weight:normal">
<text x="1112" y="1272">CeO<tspan font-size="26" dy="10">2</tspan></text>
<text x="1659" y="1272">CeO<tspan font-size="26" dy="10">2</tspan><tspan dy="-10">-H</tspan><tspan font-size="26" dy="10">2</tspan></text>
</g>
<circle cx="1122" cy="1190" r="57" fill="#cfe0da" opacity="0.8" stroke="#a8c8c0" stroke-width="4"/>
<circle cx="1122" cy="1190" r="49" fill="url(#ru)"/>
<circle cx="1662" cy="1190" r="50" fill="url(#ru)"/>
<g class="s" font-size="38" text-anchor="middle" fill="#1a1030"><text x="1128" y="1205">Ru</text><text x="1668" y="1205">Ru</text></g>
<circle cx="1090" cy="1162" r="8" fill="#f6a040"/><circle cx="1630" cy="1162" r="8" fill="#f6a040"/>
<path d="M1090,1220 l5,-10 l-8,-5 l6,-10 l-8,-5 l5,-10 l-5,-5 M1088,1180 l2,-8 l3,8" stroke="#7a1a10" stroke-width="2" fill="none"/>
<path d="M1062,1236 l6,-8 l6,6 l5,-10 l6,6 l5,-10 l6,4" stroke="#7a1a10" stroke-width="2" fill="none"/>
<path d="M1640,1175 l-8,8 l6,6 l-10,5 l6,6 l-10,6 l4,6 l-10,10 M1586,1222 l-2,-8 l-6,5" stroke="#7a1a10" stroke-width="2" fill="none"/>
<text x="1144" y="1130" class="s" font-size="24" text-anchor="middle" fill="#5a9aa8" style="font-weight:normal">CeO<tspan font-size="16" dy="6">2-x</tspan></text>
<g class="s" font-size="20" fill="#111">
<text transform="translate(988,1198) rotate(-90)">OH</text><line x1="981" y1="1200" x2="981" y2="1228" stroke="#111" stroke-width="2"/>
<text transform="translate(1265,1198) rotate(-90)">OH</text><line x1="1258" y1="1200" x2="1258" y2="1228" stroke="#111" stroke-width="2"/>
<text transform="translate(1488,1198) rotate(-90)">OH</text><line x1="1481" y1="1200" x2="1481" y2="1228" stroke="#111" stroke-width="2"/>
<text transform="translate(1526,1198) rotate(-90)">OH</text><line x1="1519" y1="1200" x2="1519" y2="1228" stroke="#111" stroke-width="2"/>
<text transform="translate(1566,1198) rotate(-90)">OH</text><line x1="1559" y1="1200" x2="1559" y2="1228" stroke="#111" stroke-width="2"/>
<text transform="translate(1763,1198) rotate(-90)">OH</text><line x1="1756" y1="1200" x2="1756" y2="1228" stroke="#111" stroke-width="2"/>
<text transform="translate(1807,1198) rotate(-90)">OH</text><line x1="1800" y1="1200" x2="1800" y2="1228" stroke="#111" stroke-width="2"/>
<text transform="translate(1851,1198) rotate(-90)">OH</text><line x1="1844" y1="1200" x2="1844" y2="1228" stroke="#111" stroke-width="2"/>
<text x="994" y="1214" font-size="18" style="font-weight:normal">OV</text>
</g>
<g fill="#fff" stroke="#111" stroke-width="2" stroke-dasharray="2 2">
<circle cx="1008" cy="1227" r="8"/><circle cx="1226" cy="1227" r="8"/>
<circle cx="1500" cy="1227" r="8"/><circle cx="1541" cy="1227" r="8"/><circle cx="1581" cy="1227" r="8"/><circle cx="1737" cy="1227" r="8"/><circle cx="1781" cy="1227" r="8"/><circle cx="1825" cy="1227" r="8"/>
</g>
</svg>
</body></html>
